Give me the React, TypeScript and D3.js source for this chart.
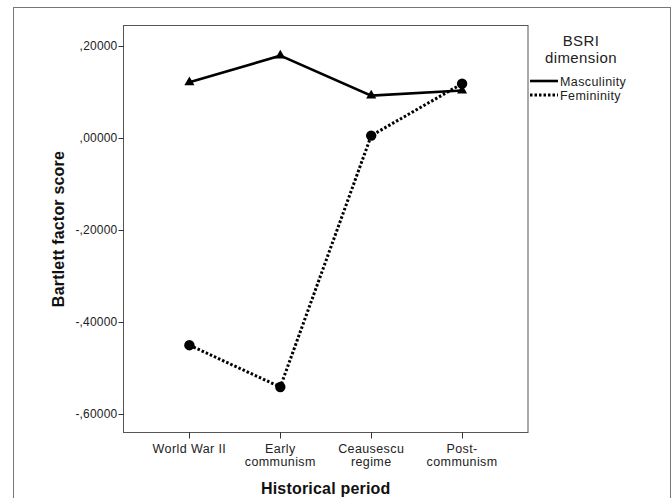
import React from "react";
import * as d3 from "d3";

const categories = [
  ["World War II"],
  ["Early", "communism"],
  ["Ceausescu", "regime"],
  ["Post-", "communism"],
];
const masculinity = [0.121, 0.179, 0.092, 0.103];
const femininity = [-0.451, -0.542, 0.005, 0.118];
const yTicks = [0.2, 0.0, -0.2, -0.4, -0.6];
const yTickLabels = [",20000", ",00000", "-,20000", "-,40000", "-,60000"];
const seriesNames = ["Masculinity", "Femininity"];

const W = 672;
const H = 498;
const plot = { left: 123.5, right: 528, top: 25.5, bottom: 432.5 };
const font = "'Liberation Sans', Arial, sans-serif";

export default function App() {
  const x = d3
    .scalePoint<number>()
    .domain(d3.range(categories.length))
    .range([plot.left, plot.right])
    .padding(0.725);
  const y = d3.scaleLinear().domain([-0.641, 0.2446]).range([plot.bottom, plot.top]);

  const line = d3
    .line<number>()
    .x((_, i) => x(i) as number)
    .y((d) => y(d));

  const tri = d3.symbol().type(d3.symbolTriangle).size(44)() as string;

  return (
    <svg
      width={W}
      height={H}
      style={{ position: "absolute", left: 0, top: 0, background: "#fff" }}
      fontFamily={font}
    >
      <rect x={0} y={0} width={W} height={H} fill="#fff" />
      <rect x={13.5} y={7.5} width={657} height={500} fill="none" stroke="#777" strokeWidth={1} />
      <rect
        x={plot.left}
        y={plot.top}
        width={plot.right - plot.left}
        height={plot.bottom - plot.top}
        fill="none"
        stroke="#555"
        strokeWidth={1}
      />
      {/* Y axis ticks */}
      {yTicks.map((t, i) => (
        <g key={i}>
          <line x1={plot.left - 5} x2={plot.left} y1={Math.round(y(t)) + 0.5} y2={Math.round(y(t)) + 0.5} stroke="#333" />
          <text x={plot.left - 6} y={y(t) + 4} textAnchor="end" fontSize={12} letterSpacing={0.2} fill="#222">
            {yTickLabels[i]}
          </text>
        </g>
      ))}
      {/* X axis ticks */}
      {categories.map((c, i) => (
        <g key={i}>
          <line
            x1={Math.round(x(i) as number) + 0.5}
            x2={Math.round(x(i) as number) + 0.5}
            y1={plot.bottom}
            y2={plot.bottom + 6}
            stroke="#333"
          />
          {c.map((s, j) => (
            <text
              key={j}
              x={x(i) as number}
              y={453 + j * 13}
              textAnchor="middle"
              fontSize={12.5}
              letterSpacing={0.4}
              fill="#222"
            >
              {s}
            </text>
          ))}
        </g>
      ))}
      <text
        x={(plot.left + plot.right) / 2}
        y={494}
        textAnchor="middle"
        fontSize={16}
        fontWeight="bold"
        letterSpacing={0.2}
        fill="#111"
      >
        Historical period
      </text>
      <text
        transform={`translate(${64},${(plot.top + plot.bottom) / 2}) rotate(-90)`}
        textAnchor="middle"
        fontSize={16}
        fontWeight="bold"
        letterSpacing={0.2}
        fill="#111"
      >
        Bartlett factor score
      </text>
      {/* Lines */}
      <path d={line(masculinity) as string} fill="none" stroke="#000" strokeWidth={2.6} />
      <path
        d={line(femininity) as string}
        fill="none"
        stroke="#000"
        strokeWidth={3}
        strokeDasharray="2.5,2"
      />
      {masculinity.map((v, i) => (
        <path key={i} d={tri} transform={`translate(${x(i)},${y(v)})`} fill="#000" />
      ))}
      {femininity.map((v, i) => (
        <circle key={i} cx={x(i) as number} cy={y(v)} r={5.2} fill="#000" />
      ))}
      {/* Legend */}
      <text x={581} y={46} textAnchor="middle" fontSize={15} letterSpacing={0.4} fill="#222">
        BSRI
      </text>
      <text x={581} y={63} textAnchor="middle" fontSize={15} letterSpacing={0.4} fill="#222">
        dimension
      </text>
      <line x1={530} x2={558} y1={81} y2={81} stroke="#000" strokeWidth={2.6} />
      <text x={560} y={85.5} fontSize={12.5} letterSpacing={0.4} fill="#222">
        {seriesNames[0]}
      </text>
      <line x1={530} x2={558} y1={95} y2={95} stroke="#000" strokeWidth={3} strokeDasharray="2.5,2" />
      <text x={560} y={99.5} fontSize={12.5} letterSpacing={0.4} fill="#222">
        {seriesNames[1]}
      </text>
    </svg>
  );
}
